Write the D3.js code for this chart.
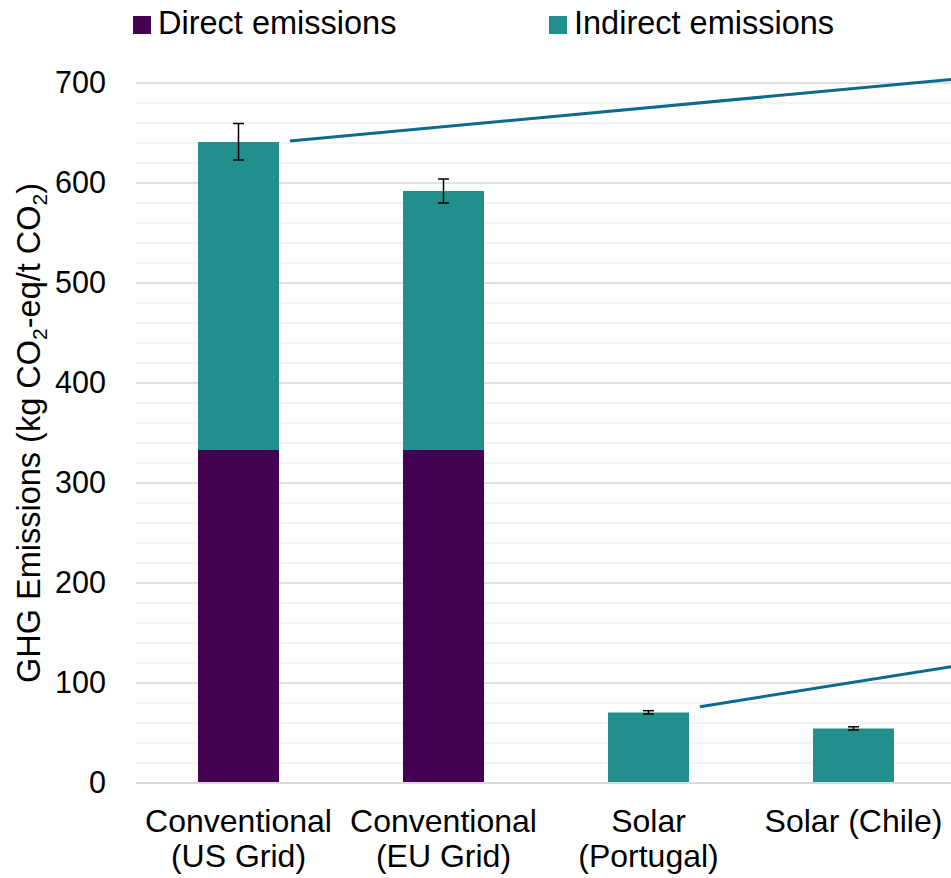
<!DOCTYPE html>
<html>
<head>
<meta charset="utf-8">
<script src="https://cdn.jsdelivr.net/npm/d3@7"></script>
<style>
  body { margin: 0; background: #fff; }
  svg { display: block; font-family: "Liberation Sans", Arial, sans-serif; }
</style>
</head>
<body>
<script>
// categories and stacked values
var categories = ['Conventional (US Grid)', 'Conventional (EU Grid)', 'Solar (Portugal)', 'Solar (Chile)'];
var labelLines = [['Conventional', '(US Grid)'], ['Conventional', '(EU Grid)'], ['Solar', '(Portugal)'], ['Solar (Chile)']];
var direct = [333, 333, 0, 0];
var indirect = [308, 259, 70.5, 54.5];
var errLow = [623, 580, 69, 53];
var errHigh = [659.5, 604, 72.3, 56.2];
var seriesNames = ['Direct emissions', 'Indirect emissions'];
var yTicks = [0, 100, 200, 300, 400, 500, 600, 700];
// connector lines (value at start, value at right edge)
var connectors = [
  {cat: 'Conventional (US Grid)', from: 642, to: 704},
  {cat: 'Solar (Portugal)', from: 76.3, to: 117}
];

var colors = ['#440154', '#21908c'];

var W = 951, H = 878;
var margin = {top: 83, right: -5, bottom: 95, left: 136};
var w = W - margin.left - margin.right,
    h = H - margin.top - margin.bottom;

var svg = d3.select('body').append('svg')
    .attr('width', W)
    .attr('height', H);

var g = svg.append('g')
    .attr('transform', 'translate(' + margin.left + ',' + margin.top + ')');

var xScale = d3.scaleBand()
    .domain(categories)
    .range([0, w])
    .paddingInner(0.605)
    .paddingOuter(0.3025);

var yScale = d3.scaleLinear()
    .domain([0, 700])
    .range([h, 0]);

// minor gridlines every 20
g.append('g')
  .selectAll('line')
  .data(d3.range(20, 700, 20).filter(function (d) { return d % 100 != 0; }))
  .enter()
  .append('line')
  .attr('x1', 0).attr('x2', w)
  .attr('y1', function (d) { return yScale(d); })
  .attr('y2', function (d) { return yScale(d); })
  .attr('stroke', '#f0f0f0')
  .attr('stroke-width', 1.5);

// major gridlines
g.append('g')
  .selectAll('line')
  .data(yTicks)
  .enter()
  .append('line')
  .attr('x1', 0).attr('x2', w)
  .attr('y1', function (d) { return yScale(d); })
  .attr('y2', function (d) { return yScale(d); })
  .attr('stroke', '#d9d9d9')
  .attr('stroke-width', 1.5);

var yAxis = d3.axisLeft(yScale).tickValues(yTicks).tickSize(0).tickPadding(30);
var ya = g.append('g').call(yAxis);
ya.select('.domain').remove();
ya.selectAll('text')
  .attr('font-size', 30.5)
  .attr('font-family', '"Liberation Sans", Arial, sans-serif')
  .attr('fill', '#000');

// stacked bars
var stackData = categories.map(function (c, i) {
  return {cat: c, direct: direct[i], indirect: indirect[i]};
});
var stack = d3.stack().keys(['direct', 'indirect'])(stackData);

g.selectAll('.layer')
  .data(stack)
  .enter()
  .append('g')
  .attr('fill', function (d, i) { return colors[i]; })
  .selectAll('rect')
  .data(function (d) { return d; })
  .enter()
  .append('rect')
  .attr('x', function (d) { return xScale(d.data.cat); })
  .attr('width', xScale.bandwidth())
  .attr('y', function (d) { return yScale(d[1]); })
  .attr('height', function (d) { return yScale(d[0]) - yScale(d[1]); });

// error bars
var cap = 5.5;
var eb = g.append('g').attr('stroke', '#000').attr('stroke-width', 1.5);
categories.forEach(function (c, i) {
  var cx = xScale(c) + xScale.bandwidth() / 2;
  eb.append('line')
    .attr('x1', cx).attr('x2', cx)
    .attr('y1', yScale(errLow[i])).attr('y2', yScale(errHigh[i]));
  eb.append('line')
    .attr('x1', cx - cap).attr('x2', cx + cap)
    .attr('y1', yScale(errLow[i])).attr('y2', yScale(errLow[i]));
  eb.append('line')
    .attr('x1', cx - cap).attr('x2', cx + cap)
    .attr('y1', yScale(errHigh[i])).attr('y2', yScale(errHigh[i]));
});

// bottom axis line
g.append('line')
  .attr('x1', 0).attr('x2', w)
  .attr('y1', h).attr('y2', h)
  .attr('stroke', '#d9d9d9')
  .attr('stroke-width', 2);

// category labels
var xl = g.append('g');
categories.forEach(function (c, i) {
  var t = xl.append('text')
    .attr('x', xScale(c) + xScale.bandwidth() / 2)
    .attr('y', h + 49)
    .attr('text-anchor', 'middle')
    .attr('font-size', 32)
    .attr('fill', '#000');
  labelLines[i].forEach(function (line, k) {
    t.append('tspan')
      .attr('x', xScale(c) + xScale.bandwidth() / 2)
      .attr('dy', k == 0 ? 0 : 35)
      .text(line);
  });
});

// connector lines
g.selectAll('.conn')
  .data(connectors)
  .enter()
  .append('line')
  .attr('x1', function (d) { return xScale(d.cat) + xScale.bandwidth() + 11; })
  .attr('y1', function (d) { return yScale(d.from); })
  .attr('x2', w)
  .attr('y2', function (d) { return yScale(d.to); })
  .attr('stroke', '#0c6a8c')
  .attr('stroke-width', 3);

// y axis title
var yt = svg.append('text')
  .attr('transform', 'translate(40,' + (margin.top + h / 2) + ') rotate(-90)')
  .attr('text-anchor', 'middle')
  .attr('font-size', 32.5)
  .attr('fill', '#000');
yt.append('tspan').text('GHG Emissions (kg CO');
yt.append('tspan').attr('font-size', 21).attr('dy', 7).text('2');
yt.append('tspan').attr('dy', -7).text('-eq/t CO');
yt.append('tspan').attr('font-size', 21).attr('dy', 7).text('2');
yt.append('tspan').attr('dy', -7).text(')');

// legend
var legendX = [133, 549];
var legend = svg.append('g');
seriesNames.forEach(function (s, i) {
  legend.append('rect')
    .attr('x', legendX[i]).attr('y', 16)
    .attr('width', 18).attr('height', 18)
    .attr('fill', colors[i]);
  legend.append('text')
    .attr('x', legendX[i] + 25).attr('y', 34)
    .attr('font-size', 32.5)
    .attr('fill', '#000')
    .text(s);
});
</script>
</body>
</html>
